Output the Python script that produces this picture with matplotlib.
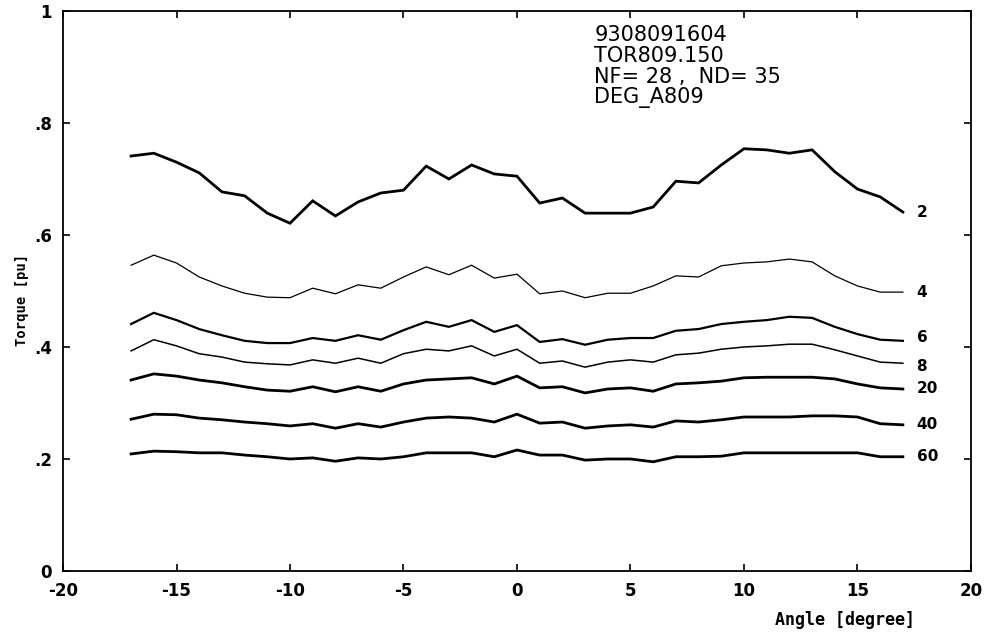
import matplotlib.pyplot as plt
import numpy as np

# angle positions, ND = 35
angle = np.arange(-17, 18)

# torque curves [pu], one per label
t2 = [0.741, 0.746, 0.730, 0.711, 0.677, 0.670, 0.639, 0.621, 0.661, 0.634,
      0.659, 0.675, 0.680, 0.723, 0.700, 0.725, 0.709, 0.705, 0.657, 0.666,
      0.639, 0.639, 0.639, 0.650, 0.696, 0.693, 0.725, 0.754, 0.752, 0.746,
      0.752, 0.713, 0.682, 0.668, 0.641]
t4 = [0.546, 0.564, 0.550, 0.525, 0.509, 0.496, 0.489, 0.488, 0.505, 0.495,
      0.511, 0.505, 0.525, 0.543, 0.529, 0.546, 0.523, 0.530, 0.495, 0.500,
      0.488, 0.496, 0.496, 0.509, 0.527, 0.525, 0.545, 0.550, 0.552, 0.557,
      0.552, 0.527, 0.509, 0.498, 0.498]
t6 = [0.441, 0.461, 0.448, 0.432, 0.421, 0.411, 0.407, 0.407, 0.416, 0.411,
      0.421, 0.413, 0.430, 0.445, 0.436, 0.448, 0.427, 0.439, 0.409, 0.414,
      0.404, 0.413, 0.416, 0.416, 0.429, 0.432, 0.441, 0.445, 0.448, 0.454,
      0.452, 0.436, 0.423, 0.413, 0.411]
t8 = [0.393, 0.413, 0.402, 0.388, 0.382, 0.373, 0.370, 0.368, 0.377, 0.371,
      0.380, 0.371, 0.388, 0.396, 0.393, 0.402, 0.384, 0.396, 0.371, 0.375,
      0.364, 0.373, 0.377, 0.373, 0.386, 0.389, 0.396, 0.400, 0.402, 0.405,
      0.405, 0.395, 0.384, 0.373, 0.371]
t20 = [0.341, 0.352, 0.348, 0.341, 0.336, 0.329, 0.323, 0.321, 0.329, 0.320,
       0.329, 0.321, 0.334, 0.341, 0.343, 0.345, 0.334, 0.348, 0.327, 0.329,
       0.318, 0.325, 0.327, 0.321, 0.334, 0.336, 0.339, 0.345, 0.346, 0.346,
       0.346, 0.343, 0.334, 0.327, 0.325]
t40 = [0.271, 0.280, 0.279, 0.273, 0.270, 0.266, 0.263, 0.259, 0.263, 0.255,
       0.263, 0.257, 0.266, 0.273, 0.275, 0.273, 0.266, 0.280, 0.264, 0.266,
       0.255, 0.259, 0.261, 0.257, 0.268, 0.266, 0.270, 0.275, 0.275, 0.275,
       0.277, 0.277, 0.275, 0.263, 0.261]
t60 = [0.209, 0.214, 0.213, 0.211, 0.211, 0.207, 0.204, 0.200, 0.202, 0.196,
       0.202, 0.200, 0.204, 0.211, 0.211, 0.211, 0.204, 0.216, 0.207, 0.207,
       0.198, 0.200, 0.200, 0.195, 0.204, 0.204, 0.205, 0.211, 0.211, 0.211,
       0.211, 0.211, 0.211, 0.204, 0.204]

curves = [t2, t4, t6, t8, t20, t40, t60]
labels = ['2', '4', '6', '8', '20', '40', '60']
widths = [2.0, 0.9, 1.6, 1.1, 2.0, 2.0, 2.0]
# small vertical nudge of end labels (in data units)
label_dy = [0, 0, 0.006, -0.006, 0, 0, 0]

xticks = [-20, -15, -10, -5, 0, 5, 10, 15, 20]
yticks = [0, 0.2, 0.4, 0.6, 0.8, 1]
ytick_labels = ['0', '.2', '.4', '.6', '.8', '1']

info = "9308091604\nTOR809.150\nNF= 28 ,  ND= 35\nDEG_A809"

plt.rcParams['axes.unicode_minus'] = False

fig = plt.figure(figsize=(9.97, 6.35), dpi=100)
ax = fig.add_axes([0.0632, 0.1008, 0.9107, 0.8819])

for y, lab, lw, dy in zip(curves, labels, widths, label_dy):
    ax.plot(angle, y, color='black', lw=lw, solid_joinstyle='miter')
    ax.text(angle[-1] + 0.6, y[-1] + dy, lab, fontsize=11, fontweight='bold',
            va='center', ha='left')

ax.set_xlim(-20, 20)
ax.set_ylim(0, 1)
ax.set_xticks(xticks)
ax.set_yticks(yticks)
ax.set_yticklabels(ytick_labels)
ax.tick_params(direction='in', length=5, width=1.2, top=True, right=True,
               labelsize=12, pad=8)
for lab in ax.get_xticklabels() + ax.get_yticklabels():
    lab.set_fontweight('bold')
for s in ax.spines.values():
    s.set_linewidth(1.3)

ax.text(0.585, 0.975, info, transform=ax.transAxes, fontsize=15,
        va='top', ha='left', linespacing=1.05)

fig.text(0.022, 0.528, 'Torque [pu]', rotation=90, fontsize=10,
         fontweight='bold', family='DejaVu Sans Mono', va='center', ha='center')
fig.text(0.848, 0.024, 'Angle [degree]', fontsize=12, fontweight='bold',
         family='DejaVu Sans Mono', va='center', ha='center')

plt.savefig('out.png', dpi=100)
